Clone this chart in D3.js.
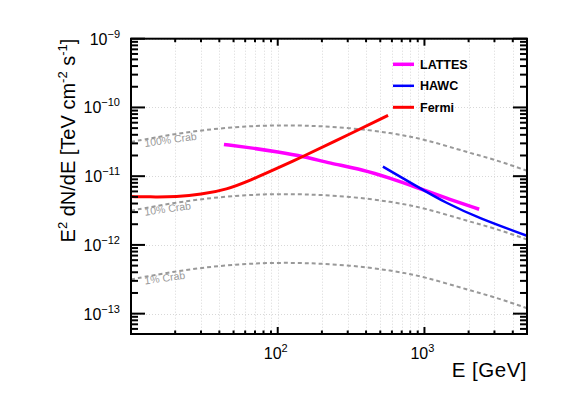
<!DOCTYPE html>
<html>
<head>
<meta charset="utf-8">
<script src="https://cdn.jsdelivr.net/npm/d3@7"></script>
<style>
  body { margin: 0; background: #fff; }
  svg { font-family: "Liberation Sans", Arial, sans-serif; }
</style>
</head>
<body>
<div id="chart"></div>
<script>
// E [GeV], E^2 dN/dE [TeV cm^-2 s^-1]
const lattes = [[43, 2.9e-11], [68, 2.56e-11], [100, 2.25e-11], [149, 1.94e-11], [226, 1.55e-11], [381, 1.24e-11], [578, 9.4e-12], [878, 6.9e-12], [1404, 4.8e-12], [2360, 3.3e-12]];
const hawc = [[521, 1.38e-11], [878, 7.2e-12], [1404, 4.06e-12], [2360, 2.45e-12], [5000, 1.36e-12]];
const fermi = [[10, 5.05e-12], [15, 4.98e-12], [20, 5.02e-12], [30, 5.4e-12], [45, 6.4e-12], [65, 8.7e-12], [100, 1.31e-11], [149, 1.94e-11], [226, 2.96e-11], [565, 7.65e-11]];
const crab = [[10, 3.15e-11], [20, 4.15e-11], [40, 5.0e-11], [80, 5.5e-11], [150, 5.5e-11], [300, 5.1e-11], [600, 4.25e-11], [1000, 3.45e-11], [2000, 2.2e-11], [3000, 1.75e-11], [5000, 1.2e-11]];
const crabFractions = [1, 0.1, 0.01];
const crabLabels = ['100% Crab', '10% Crab', '1% Crab'];

const seriesNames = ['LATTES', 'HAWC', 'Fermi'];
const seriesColors = ['#ff00ff', '#0000ff', '#ff0000'];
const seriesWidths = [3.5, 2.5, 3];

const xTickExps = [2, 3];
const yTickExps = [-9, -10, -11, -12, -13];

const width = 581;
const height = 394;
const margin = { left: 131, top: 38.7, right: 54, bottom: 60 };

const svg = d3.select('#chart').append('svg')
    .attr('width', width)
    .attr('height', height);

const x = d3.scaleLog().domain([10, 5000]).range([margin.left, width - margin.right]);
const y = d3.scaleLog().domain([10 ** -13.296, 1e-9]).range([height - margin.bottom, margin.top]);

const x0 = x.range()[0], x1 = x.range()[1];
const y0 = y.range()[0], y1 = y.range()[1];

// tick values
const xMinor = [];
for (let e = 1; e <= 3; e++) {
    for (let k = 2; k <= 9; k++) {
        const v = k * 10 ** e;
        if (v > 10 && v < 5000) xMinor.push(v);
    }
}
const yMinor = [];
for (let e = -14; e <= -10; e++) {
    for (let k = 2; k <= 9; k++) {
        const v = k * 10 ** e;
        if (v > y.domain()[0] && v < 1e-9) yMinor.push(v);
    }
}

// grid
const grid = svg.append('g')
    .attr('stroke', '#d8d8d8')
    .attr('stroke-width', 1)
    .attr('stroke-dasharray', '1,2');
grid.selectAll('line.vx')
    .data(xMinor.concat(xTickExps.map(e => 10 ** e)))
    .enter().append('line')
    .attr('x1', d => Math.round(x(d)) + 0.5).attr('x2', d => Math.round(x(d)) + 0.5)
    .attr('y1', y1).attr('y2', y0);
grid.selectAll('line.hy')
    .data(yTickExps.map(e => 10 ** e))
    .enter().append('line')
    .attr('y1', d => Math.round(y(d)) + 0.5).attr('y2', d => Math.round(y(d)) + 0.5)
    .attr('x1', x0).attr('x2', x1);

const plot = svg.append('g');

const smooth = d3.line()
    .x(d => x(d[0]))
    .y(d => y(d[1]))
    .curve(d3.curveBasis);

// crab reference curves
crabFractions.forEach((f, i) => {
    const pts = crab.map(d => [d[0], d[1] * f]);
    plot.append('path')
        .attr('d', smooth(pts))
        .attr('fill', 'none')
        .attr('stroke', '#999999')
        .attr('stroke-width', 2)
        .attr('stroke-dasharray', '4,3');
    const lx = x0 + 14;
    const ly = y(crab[0][1] * f) + 5;
    plot.append('text')
        .attr('transform', `translate(${lx},${ly}) rotate(-8)`)
        .attr('font-size', 10.5)
        .attr('fill', '#999999')
        .text(crabLabels[i]);
});

[lattes, hawc, fermi].forEach((s, i) => {
    plot.append('path')
        .attr('d', smooth(s))
        .attr('fill', 'none')
        .attr('stroke', seriesColors[i])
        .attr('stroke-width', seriesWidths[i]);
});

// frame
svg.append('rect')
    .attr('x', x0).attr('y', y1)
    .attr('width', x1 - x0).attr('height', y0 - y1)
    .attr('fill', 'none')
    .attr('stroke', '#000')
    .attr('stroke-width', 2);

// ticks
const ticks = svg.append('g').attr('stroke', '#000').attr('stroke-width', 2);
const xMajor = xTickExps.map(e => 10 ** e);
[[xMajor, 7], [xMinor, 3.5]].forEach(([vals, len]) => {
    vals.forEach(v => {
        const px = x(v);
        ticks.append('line').attr('x1', px).attr('x2', px).attr('y1', y0).attr('y2', y0 - len);
        ticks.append('line').attr('x1', px).attr('x2', px).attr('y1', y1).attr('y2', y1 + len);
    });
});
const yMajor = yTickExps.map(e => 10 ** e);
[[yMajor, 14], [yMinor, 7]].forEach(([vals, len]) => {
    vals.forEach(v => {
        const py = y(v);
        ticks.append('line').attr('y1', py).attr('y2', py).attr('x1', x0).attr('x2', x0 + len);
        ticks.append('line').attr('y1', py).attr('y2', py).attr('x1', x1).attr('x2', x1 - len);
    });
});

// tick labels
const yLab = svg.append('g').attr('font-size', 16).attr('fill', '#000');
yTickExps.forEach(e => {
    const t = yLab.append('text')
        .attr('x', x0 - 11)
        .attr('y', y(10 ** e) + 6)
        .attr('text-anchor', 'end');
    t.append('tspan').text('10');
    t.append('tspan').attr('dy', -7).attr('font-size', 11).text('\u2212' + Math.abs(e));
});
const xLab = svg.append('g').attr('font-size', 16).attr('fill', '#000');
xTickExps.forEach(e => {
    const t = xLab.append('text')
        .attr('x', x(10 ** e) - 2)
        .attr('y', y0 + 25)
        .attr('text-anchor', 'middle');
    t.append('tspan').text('10');
    t.append('tspan').attr('dy', -7).attr('font-size', 11).text(e);
});

// axis titles
svg.append('text')
    .attr('x', x1)
    .attr('y', 377)
    .attr('text-anchor', 'end')
    .attr('font-size', 20.5)
    .attr('letter-spacing', 0.5)
    .text('E [GeV]');

const yt = svg.append('text')
    .attr('transform', `translate(75,${y1}) rotate(-90)`)
    .attr('text-anchor', 'end')
    .attr('font-size', 20);
yt.append('tspan').text('E');
yt.append('tspan').attr('dy', -8).attr('font-size', 13).text('2');
yt.append('tspan').attr('dy', 8).text(' dN/dE [TeV cm');
yt.append('tspan').attr('dy', -8).attr('font-size', 13).text('-2');
yt.append('tspan').attr('dy', 8).text(' s');
yt.append('tspan').attr('dy', -8).attr('font-size', 13).text('-1');
yt.append('tspan').attr('dy', 8).text(']');

// legend
const legend = svg.append('g');
seriesNames.forEach((name, i) => {
    const ly = 64.3 + i * 21.5;
    legend.append('line')
        .attr('x1', 393).attr('x2', 414)
        .attr('y1', ly).attr('y2', ly)
        .attr('stroke', seriesColors[i])
        .attr('stroke-width', seriesWidths[i]);
    legend.append('text')
        .attr('x', 420)
        .attr('y', ly + 4.5)
        .attr('font-size', 12.5)
        .attr('font-weight', 'bold')
        .text(name);
});
</script>
</body>
</html>
